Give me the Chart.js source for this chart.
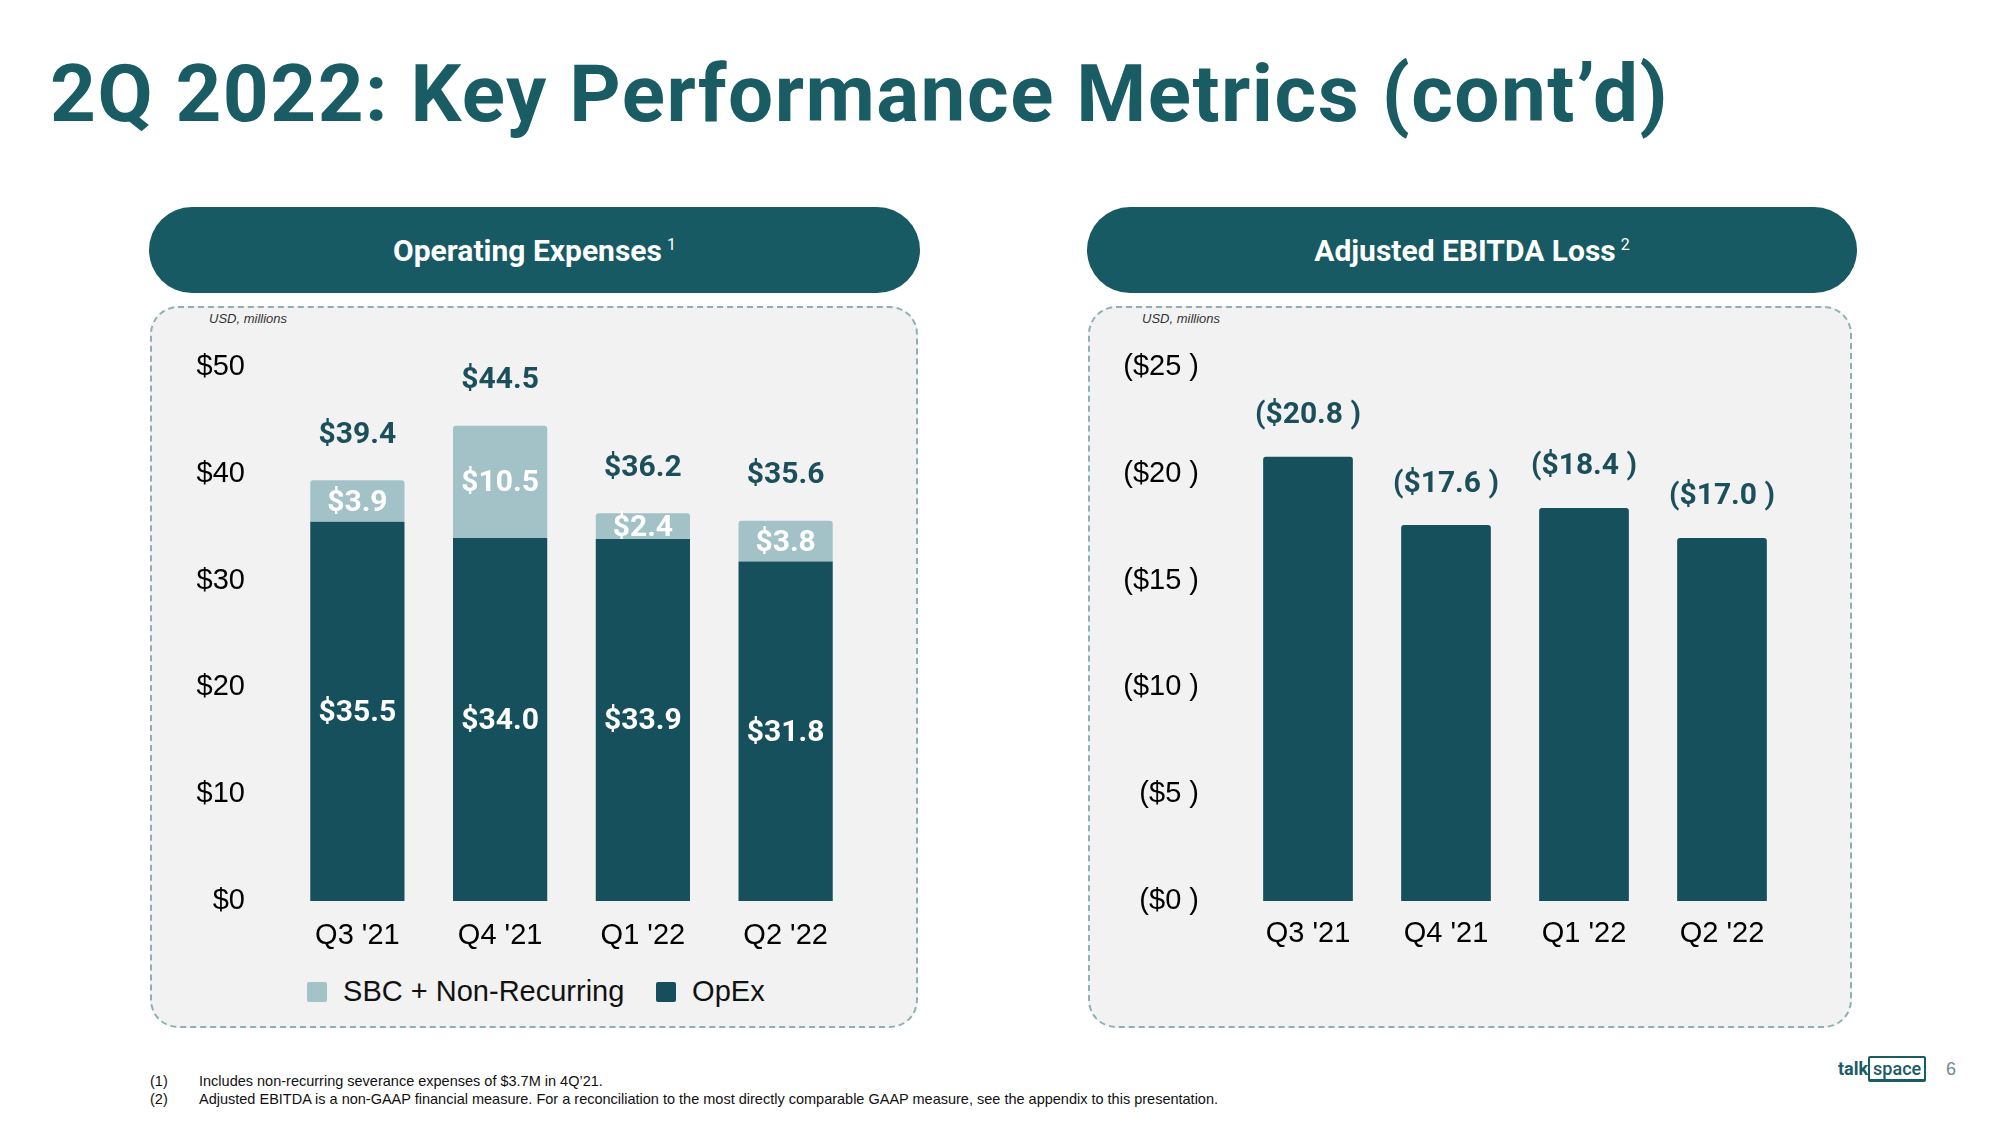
<!DOCTYPE html>
<html>
<head>
<meta charset="utf-8">
<script src="https://cdn.jsdelivr.net/npm/chart.js@4.4.1/dist/chart.umd.min.js"></script>
<style>
  body { margin: 0; width: 2000px; height: 1125px; background: #fff; position: relative; overflow: hidden; font-family: "Liberation Sans", Arial, sans-serif; }
  .title { position: absolute; left: 50px; top: 54px; font-family: Roboto; font-weight: 700; font-size: 80px; line-height: 80px; letter-spacing: 1.5px; color: #1a5c64; white-space: nowrap; }
  .pill { position: absolute; top: 207px; height: 86px; border-radius: 43px; background: #175a63; color: #fff; font-family: Roboto; font-weight: 700; font-size: 30px; display: flex; align-items: center; justify-content: center; }
  .pill sup { font-size: 16px; font-weight: 400; margin-left: 5px; position: relative; top: -6px; }
  .panel { position: absolute; top: 306px; height: 718px; background: #f2f2f2; border: 2px dashed #8fb0b3; border-radius: 28px; }
  .unit { position: absolute; top: 311px; font-style: italic; font-size: 13px; color: #333; }
  canvas { position: absolute; }
  .legend { position: absolute; top: 974px; font-size: 29px; color: #111; line-height: 34px; white-space: nowrap; }
  .legend span.box { display: inline-block; width: 20px; height: 20px; border-radius: 2px; vertical-align: -1px; }
  .foot { position: absolute; font-size: 14.5px; color: #111; white-space: nowrap; }
  .logo { position: absolute; left: 1838px; top: 1058px; font-family: Roboto; font-weight: 700; font-size: 18px; color: #1a5c64; }
  .logo b { font-weight: 500; border: 2px solid #1a5c64; border-bottom-width: 3px; padding: 0 3px; border-radius: 2px; }
  .page { position: absolute; left: 1946px; top: 1059px; font-size: 18px; color: #6f8990; }
</style>
</head>
<body>
<div class="title">2Q 2022: Key Performance Metrics (cont’d)</div>

<div class="pill" style="left:149px;width:771px;">Operating Expenses<sup>1</sup></div>
<div class="pill" style="left:1087px;width:770px;">Adjusted EBITDA Loss<sup>2</sup></div>

<div class="panel" style="left:150px;width:764px;"></div>
<div class="panel" style="left:1088px;width:760px;"></div>
<div class="unit" style="left:209px;">USD, millions</div>
<div class="unit" style="left:1142px;">USD, millions</div>

<canvas id="opexChart" width="768" height="654" style="left:150px;top:308px;"></canvas>
<canvas id="ebitdaChart" width="764" height="654" style="left:1088px;top:308px;"></canvas>

<div class="legend" style="left:307px;"><span class="box" style="background:#a3c3c8"></span>&nbsp; SBC + Non-Recurring</div>
<div class="legend" style="left:656px;"><span class="box" style="background:#164f5b"></span>&nbsp; OpEx</div>

<div class="foot" style="left:150px;top:1073px;">(1)</div>
<div class="foot" style="left:199px;top:1073px;">Includes non-recurring severance expenses of $3.7M in 4Q’21.</div>
<div class="foot" style="left:150px;top:1091px;">(2)</div>
<div class="foot" style="left:199px;top:1091px;">Adjusted EBITDA is a non-GAAP financial measure. For a reconciliation to the most directly comparable GAAP measure, see the appendix to this presentation.</div>

<div class="logo">talk<b>space</b></div>
<div class="page">6</div>

<script>
// quarters shown on both charts
const quarters = ["Q3 '21", "Q4 '21", "Q1 '22", "Q2 '22"];

// Operating expenses (USD millions)
const opex = [35.5, 34.0, 33.9, 31.8];
const sbcNonRecurring = [3.9, 10.5, 2.4, 3.8];
const opexTotals = [39.4, 44.5, 36.2, 35.6];
const opexTicks = [0, 10, 20, 30, 40, 50];

// Adjusted EBITDA loss (USD millions, shown as losses)
const ebitdaLoss = [20.8, 17.6, 18.4, 17.0];
const ebitdaTicks = [0, 5, 10, 15, 20, 25];

const darkTeal = '#16505c';
const lightTeal = '#a2c2c8';
const labelTeal = '#1b4f5b';

// draws the value labels on/above the bars
const barLabels = {
    id: 'barLabels',
    afterDatasetsDraw(chart, args, opts) {
        const ctx = chart.ctx;
        ctx.save();
        ctx.font = 'bold 30px Roboto';
        ctx.textAlign = 'center';
        ctx.textBaseline = 'middle';
        if (opts.segments) {
            chart.data.datasets.forEach((ds, i) => {
                chart.getDatasetMeta(i).data.forEach((bar, j) => {
                    ctx.fillStyle = '#ffffff';
                    ctx.fillText('$' + ds.data[j].toFixed(1), bar.x, (bar.y + bar.base) / 2 + 2);
                });
            });
        }
        const top = chart.getDatasetMeta(chart.data.datasets.length - 1);
        top.data.forEach((bar, j) => {
            ctx.fillStyle = labelTeal;
            ctx.fillText(opts.format(opts.totals[j]), bar.x, bar.y - opts.offset);
        });
        ctx.restore();
    }
};

const tickFont = { family: 'Liberation Sans', size: 29 };

var ctx = document.getElementById('opexChart').getContext('2d');
var opexChart = new Chart(ctx, {
    type: 'bar',
    data: {
        labels: quarters,
        datasets: [{
            label: 'OpEx',
            data: opex,
            backgroundColor: darkTeal,
            borderRadius: 0,
            categoryPercentage: 1,
            barPercentage: 0.66
        }, {
            label: 'SBC + Non-Recurring',
            data: sbcNonRecurring,
            backgroundColor: lightTeal,
            borderRadius: 3,
            categoryPercentage: 1,
            barPercentage: 0.66
        }]
    },
    options: {
        responsive: false,
        animation: false,
        layout: { padding: { top: 59, right: 61, bottom: 11, left: 0 } },
        plugins: {
            legend: { display: false },
            tooltip: { enabled: false },
            barLabels: {
                segments: true,
                totals: opexTotals,
                offset: 45,
                format: (v) => '$' + v.toFixed(1)
            }
        },
        scales: {
            x: {
                stacked: true,
                grid: { display: false, drawTicks: false },
                border: { display: false },
                ticks: { color: '#000', font: tickFont, padding: 18 },
                afterFit: (scale) => { scale.height = 50; }
            },
            y: {
                stacked: true,
                min: 0,
                max: 50,
                grid: { display: false, drawTicks: false },
                border: { display: false },
                afterBuildTicks: (scale) => { scale.ticks = opexTicks.map((v) => ({ value: v })); },
                ticks: { color: '#000', font: tickFont, padding: 41, callback: (v) => '$' + v },
                afterFit: (scale) => { scale.width = 136; }
            }
        }
    },
    plugins: [barLabels]
});

var ctx = document.getElementById('ebitdaChart').getContext('2d');
var ebitdaChart = new Chart(ctx, {
    type: 'bar',
    data: {
        labels: quarters,
        datasets: [{
            label: 'Adjusted EBITDA Loss',
            data: ebitdaLoss,
            backgroundColor: darkTeal,
            borderRadius: 3,
            categoryPercentage: 1,
            barPercentage: 0.65
        }]
    },
    options: {
        responsive: false,
        animation: false,
        layout: { padding: { top: 59, right: 61, bottom: 11, left: 0 } },
        plugins: {
            legend: { display: false },
            tooltip: { enabled: false },
            barLabels: {
                segments: false,
                totals: ebitdaLoss,
                offset: 41,
                format: (v) => '($' + v.toFixed(1) + ' )'
            }
        },
        scales: {
            x: {
                grid: { display: false, drawTicks: false },
                border: { display: false },
                ticks: { color: '#000', font: tickFont, padding: 16 },
                afterFit: (scale) => { scale.height = 50; }
            },
            y: {
                min: 0,
                max: 25,
                grid: { display: false, drawTicks: false },
                border: { display: false },
                afterBuildTicks: (scale) => { scale.ticks = ebitdaTicks.map((v) => ({ value: v })); },
                ticks: { color: '#000', font: tickFont, padding: 40, callback: (v) => '($' + v + ' )' },
                afterFit: (scale) => { scale.width = 151; }
            }
        }
    },
    plugins: [barLabels]
});
</script>
</body>
</html>
